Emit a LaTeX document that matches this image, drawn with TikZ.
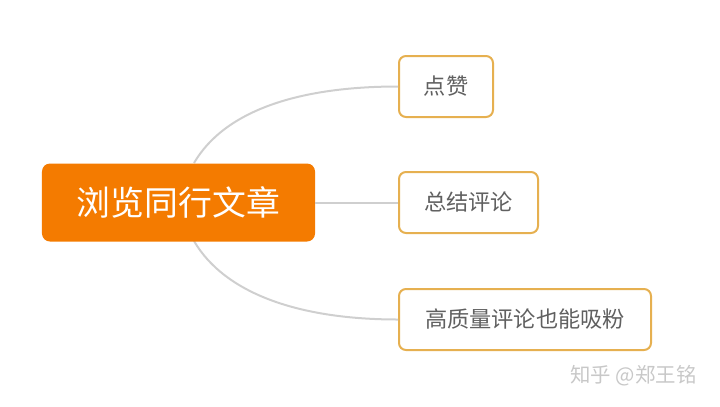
\documentclass[tikz,border=0pt]{standalone}
\usepackage{fontspec}
\newfontfamily\cjk{Noto Sans CJK SC}
\definecolor{mainor}{HTML}{F47B00}
\definecolor{childbd}{HTML}{E6B050}
\definecolor{txtgray}{HTML}{606060}
\definecolor{linegray}{HTML}{CFCFCF}
\definecolor{wmgray}{HTML}{C8C8C8}
\tikzset{
  mainbox/.style={fill=mainor, draw=none, rounded corners=8bp, text=white, inner sep=0pt, minimum width=273bp, minimum height=78bp, font=\cjk\fontsize{34}{37}\selectfont},
  childbox/.style={fill=white, draw=childbd, line width=2bp, rounded corners=7bp, text=txtgray, inner sep=0pt, minimum height=61bp, font=\cjk\fontsize{22.3}{25}\selectfont},
  conn/.style={draw=linegray, line width=2bp},
  wm/.style={text=wmgray, font=\cjk\fontsize{20.5}{23}\selectfont}
}
\begin{document}
\begin{tikzpicture}[x=1bp,y=-1bp]
\useasboundingbox (0,0) rectangle (720,406);
\node[childbox, minimum width=94bp, anchor=west] (c1) at (398,86.5) {点赞};
\node[childbox, minimum width=139bp, anchor=west] (c2) at (398,202.5) {总结评论};
\node[childbox, minimum width=252bp, anchor=west] (c3) at (398,319.5) {高质量评论也能吸粉};
\coordinate (t) at (194,163);
\coordinate (b) at (194,241);
\draw[conn] (t) .. controls (225,110) and (300,86.5) .. (c1.west);
\draw[conn] (b) .. controls (225,294) and (300,319.5) .. (c3.west);
\node[mainbox] (m) at (178.5,202.5) {浏览同行文章};
\draw[conn] (m.east) -- (c2.west);
\node[wm] (w) at (633.5,376) {知乎 @郑王铭};
\end{tikzpicture}
\end{document}
